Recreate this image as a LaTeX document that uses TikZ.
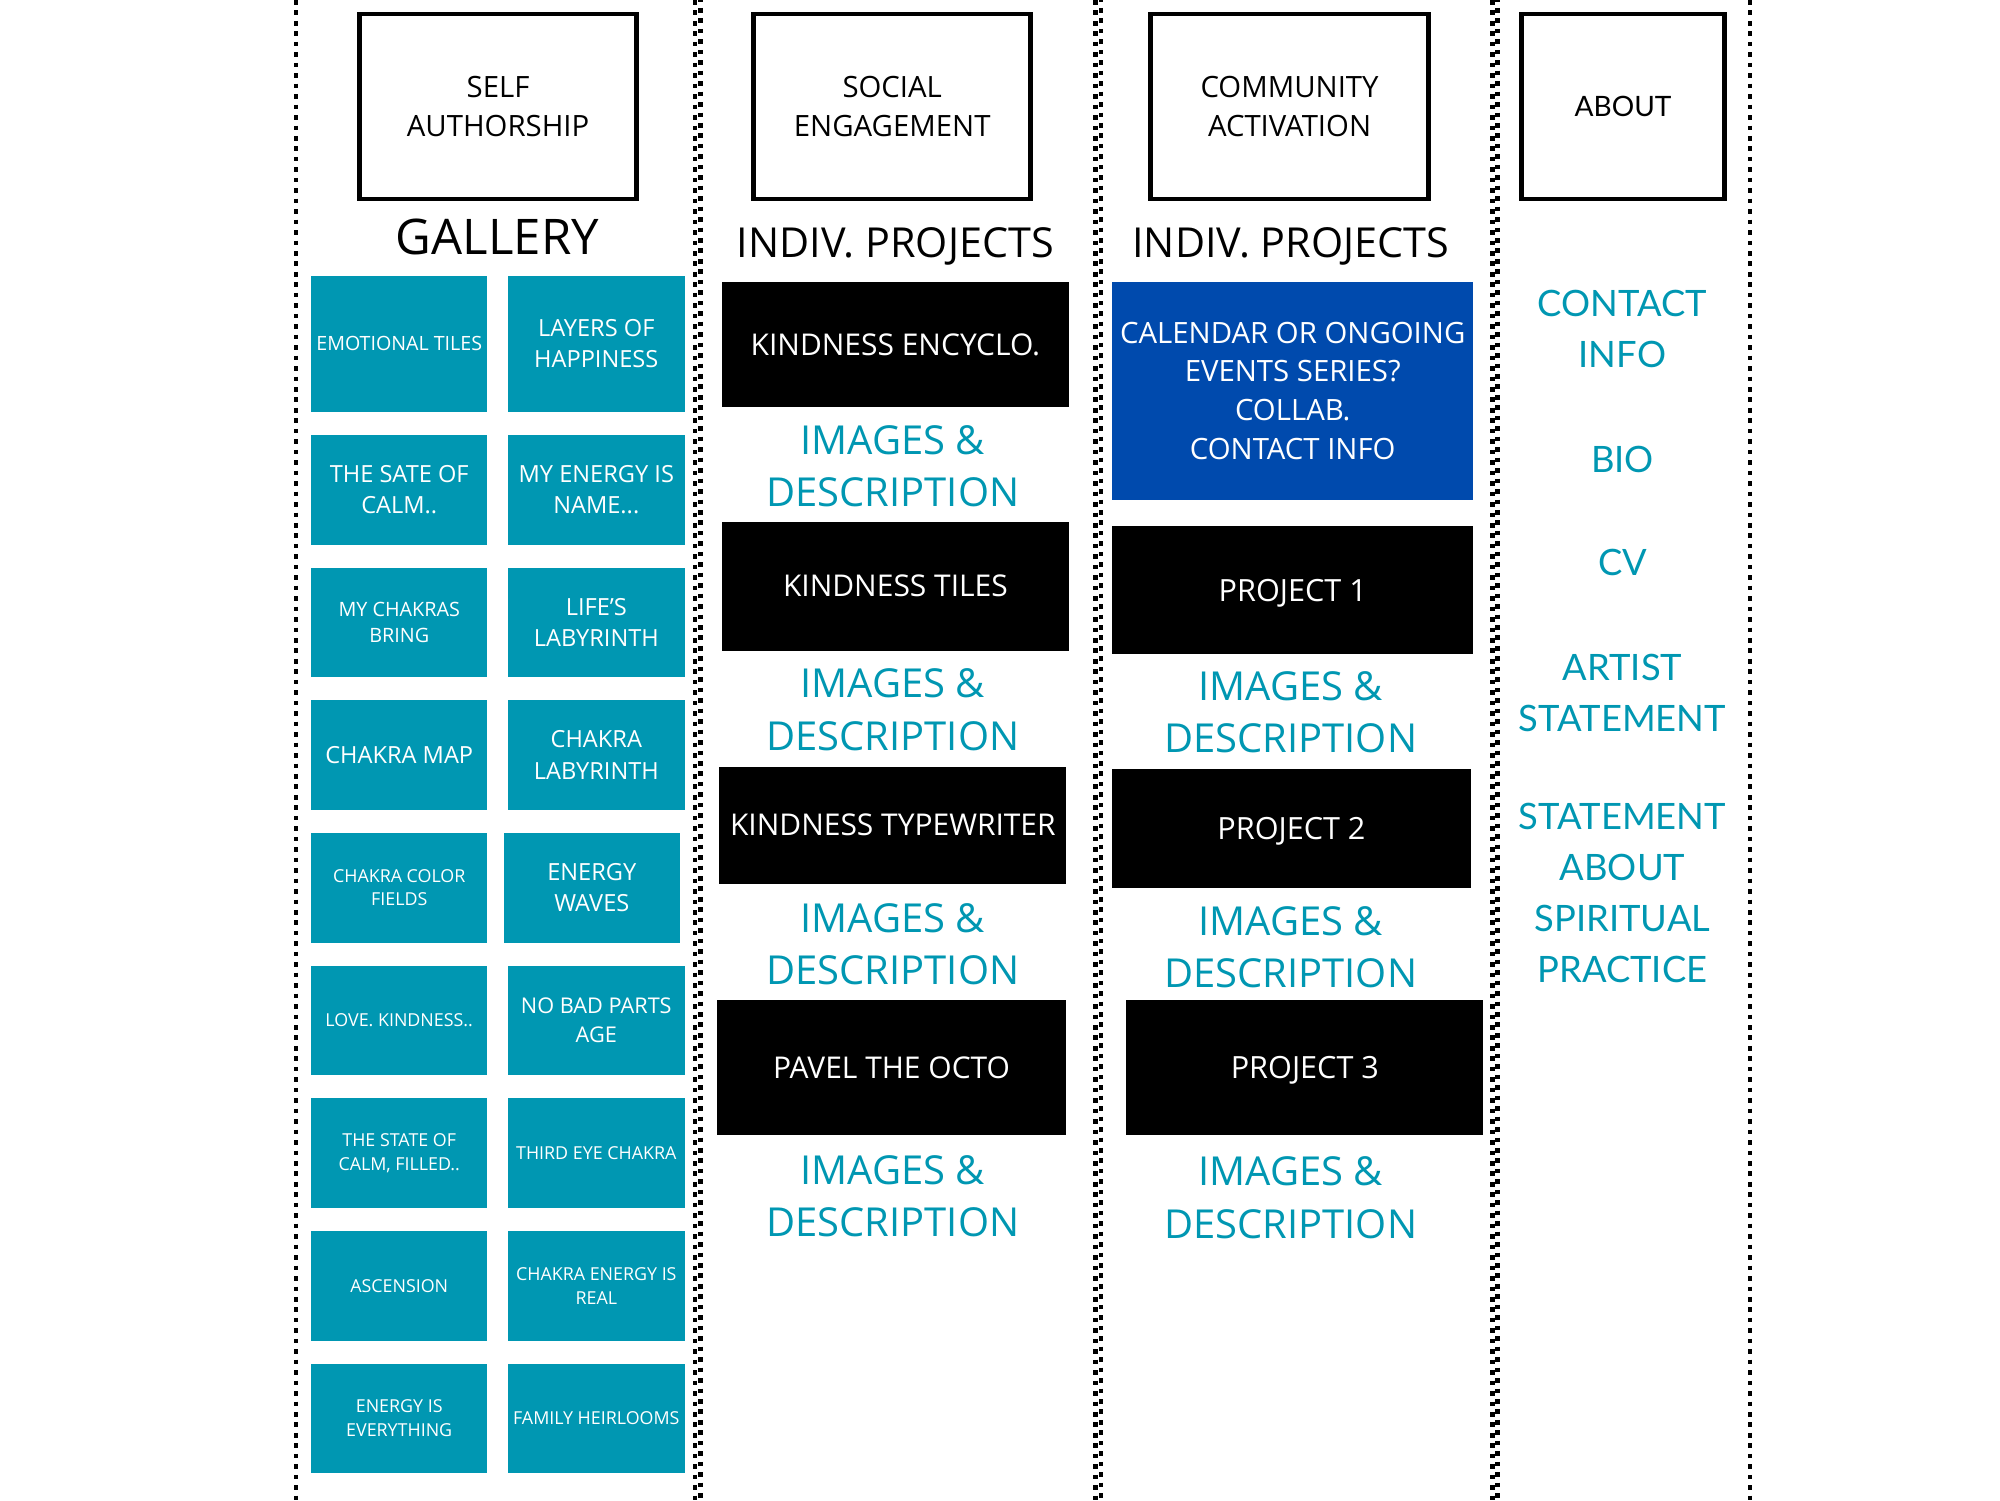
\documentclass[tikz,border=0pt]{standalone}
\usepackage{fontspec}
\setmainfont{Open Sans}
\newfontfamily\aboutfont{Lato}
\definecolor{tealc}{HTML}{0097B2}
\definecolor{bluec}{HTML}{004AAD}
\tikzset{
  dotline/.style={line width=3.6pt, dash pattern=on 3.6pt off 4.6pt},
  hdrbox/.style={draw=black, line width=3.7pt, fill=white, align=center, inner sep=0pt, outer sep=0pt,
    font=\fontsize{23}{30}\selectfont},
  tile/.style={fill=tealc, text=white, align=center, inner sep=0pt, outer sep=0pt},
  bigt/.style={tile, font=\fontsize{18.5}{24}\selectfont},
  smallt/.style={tile, font=\fontsize{14}{18.5}\selectfont},
  blackbox/.style={fill=black, text=white, align=center, inner sep=0pt, outer sep=0pt,
    font=\fontsize{23.5}{30}\selectfont},
  projbox/.style={blackbox, font=\fontsize{24}{30}\selectfont, text depth=0pt},
  bluebox/.style={fill=bluec, text=white, align=center, inner sep=0pt, outer sep=0pt,
    font=\fontsize{23}{30.5}\selectfont},
  desc/.style={text=tealc, align=center, inner sep=0pt, font=\fontsize{31.3}{41}\selectfont},
  title/.style={text=black, align=center, inner sep=0pt},
  about/.style={text=tealc, align=center, inner sep=0pt, font=\aboutfont\fontsize{28.5}{40}\selectfont},
}
\begin{document}
\begin{tikzpicture}[x=1pt,y=-1pt]
\useasboundingbox[fill=white] (0,0) rectangle (1568,1176);

% separators
\draw[dotline] (232,0) -- (232,1176);
\foreach \xx in {545,859,1170}{
  \draw[dotline] (\xx,0) -- (\xx,1176);
  \draw[dotline, dash phase=2pt] (\xx+4.2,0) -- (\xx+4.2,1176);
}
\draw[dotline] (1372,0) -- (1372,1176);

% header boxes
\node[hdrbox, minimum width=217pt, minimum height=145pt] (h1) at (390.5,83.5) {SELF\\AUTHORSHIP};
\node[hdrbox, minimum width=217pt, minimum height=145pt] (h2) at (699.5,83.5) {SOCIAL\\ENGAGEMENT};
\node[hdrbox, minimum width=218pt, minimum height=145pt] (h3) at (1011,83.5) {COMMUNITY\\ACTIVATION};
\node[hdrbox, font=\aboutfont\fontsize{22}{30}\selectfont, minimum width=159pt, minimum height=145pt] (h4) at (1272.5,83.5) {ABOUT};

% column titles
\node[title, font=\fontsize{38.5}{46}\selectfont] (gal) at (390,186) {GALLERY};
\node[title, font=\fontsize{32.4}{38}\selectfont] (ip1) at (702,193.5) {INDIV. PROJECTS};
\node[title, font=\fontsize{32.4}{38}\selectfont] (ip2) at (1012,193.5) {INDIV. PROJECTS};

% gallery tiles
\node[smallt, font=\fontsize{15.4}{19}\selectfont, minimum width=138pt, minimum height=107pt] (t11) at (313,269.5) {EMOTIONAL TILES};
\node[bigt, minimum width=139pt, minimum height=107pt] (t12) at (467.5,269.5) {LAYERS OF\\HAPPINESS};
\node[bigt, minimum width=138pt, minimum height=86pt] (t21) at (313,384) {THE SATE OF\\CALM..};
\node[bigt, minimum width=139pt, minimum height=86pt] (t22) at (467.5,384) {MY ENERGY IS\\NAME...};
\node[smallt, font=\fontsize{15.5}{20}\selectfont, minimum width=138pt, minimum height=86pt] (t31) at (313,488) {MY CHAKRAS\\BRING};
\node[bigt, minimum width=139pt, minimum height=86pt] (t32) at (467.5,488) {LIFE’S\\LABYRINTH};
\node[bigt, minimum width=138pt, minimum height=86pt] (t41) at (313,592) {CHAKRA MAP};
\node[bigt, font=\fontsize{18.5}{25}\selectfont, minimum width=139pt, minimum height=86pt] (t42) at (467.5,592) {CHAKRA\\LABYRINTH};
\node[smallt, minimum width=138pt, minimum height=86pt] (t51) at (313,696) {CHAKRA COLOR\\FIELDS};
\node[bigt, minimum width=138pt, minimum height=86pt] (t52) at (464,696) {ENERGY\\WAVES};
\node[smallt, minimum width=138pt, minimum height=86pt] (t61) at (313,800) {LOVE. KINDNESS..};
\node[bigt, font=\fontsize{17}{23}\selectfont, minimum width=139pt, minimum height=86pt] (t62) at (467.5,800) {NO BAD PARTS\\AGE};
\node[smallt, minimum width=138pt, minimum height=86pt] (t71) at (313,904) {THE STATE OF\\CALM, FILLED..};
\node[smallt, minimum width=139pt, minimum height=86pt] (t72) at (467.5,904) {THIRD EYE CHAKRA};
\node[smallt, minimum width=138pt, minimum height=86pt] (t81) at (313,1008) {ASCENSION};
\node[smallt, font=\fontsize{14}{19}\selectfont, minimum width=139pt, minimum height=86pt] (t82) at (467.5,1008) {CHAKRA ENERGY IS\\REAL};
\node[smallt, minimum width=138pt, minimum height=86pt] (t91) at (313,1112) {ENERGY IS\\EVERYTHING};
\node[smallt, minimum width=139pt, minimum height=86pt] (t92) at (467.5,1112) {FAMILY HEIRLOOMS};

% social engagement column
\node[blackbox, minimum width=272pt, minimum height=98pt] (s1) at (702,270) {KINDNESS ENCYCLO.};
\node[desc] (d1) at (700,365.5) {IMAGES \&\\DESCRIPTION};
\node[blackbox, minimum width=272pt, minimum height=101pt] (s2) at (702,459.5) {KINDNESS TILES};
\node[desc] (d2) at (700,556.5) {IMAGES \&\\DESCRIPTION};
\node[blackbox, minimum width=272pt, minimum height=92pt] (s3) at (700,647) {KINDNESS TYPEWRITER};
\node[desc] (d3) at (700,740.5) {IMAGES \&\\DESCRIPTION};
\node[blackbox, minimum width=274pt, minimum height=106pt] (s4) at (699,837) {PAVEL THE OCTO};
\node[desc] (d4) at (700,938) {IMAGES \&\\DESCRIPTION};

% community activation column
\node[bluebox, minimum width=283pt, minimum height=171pt] (c0) at (1013.5,306.5) {CALENDAR OR ONGOING\\EVENTS SERIES?\\COLLAB.\\CONTACT INFO};
\node[projbox, minimum width=283pt, minimum height=101pt] (c1) at (1013.5,462.5) {PROJECT 1};
\node[desc] (e1) at (1012,558.5) {IMAGES \&\\DESCRIPTION};
\node[projbox, minimum width=281pt, minimum height=93pt] (c2) at (1012.5,649.5) {PROJECT 2};
\node[desc] (e2) at (1012,742.5) {IMAGES \&\\DESCRIPTION};
\node[projbox, minimum width=280pt, minimum height=106pt] (c3) at (1023,837) {PROJECT 3};
\node[desc] (e3) at (1012,939) {IMAGES \&\\DESCRIPTION};

% about column
\node[about] (a1) at (1272,258) {CONTACT\\INFO};
\node[about] (a2) at (1272,360) {BIO};
\node[about] (a3) at (1272,441) {CV};
\node[about] (a4) at (1272,543) {ARTIST\\STATEMENT};
\node[about] (a5) at (1272,700) {STATEMENT\\ABOUT\\SPIRITUAL\\PRACTICE};
\end{tikzpicture}
\end{document}
